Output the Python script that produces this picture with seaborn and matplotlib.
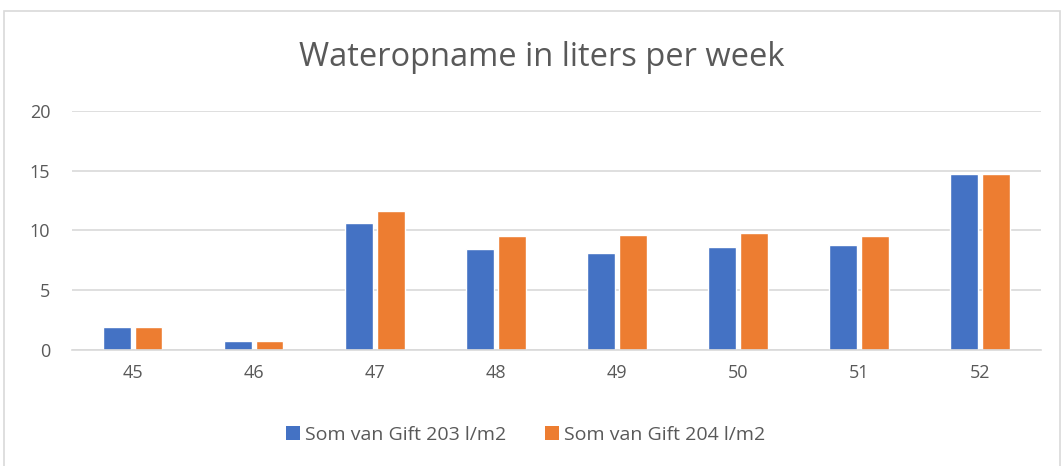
import matplotlib
matplotlib.use("Agg")
import matplotlib.pyplot as plt
import seaborn as sns
import pandas as pd
from matplotlib.patches import Rectangle, Patch

weeks = ["45", "46", "47", "48", "49", "50", "51", "52"]
gift_203 = [1.95, 0.75, 10.6, 8.45, 8.1, 8.6, 8.75, 14.75]
gift_204 = [1.95, 0.75, 11.6, 9.5, 9.65, 9.8, 9.55, 14.75]
series_names = ["Som van Gift 203 l/m2", "Som van Gift 204 l/m2"]
colors = ["#4472C4", "#ED7D31"]
yticks = [0, 5, 10, 15, 20]

df = pd.DataFrame({
    "week": weeks * 2,
    "value": gift_203 + gift_204,
    "series": [series_names[0]] * len(weeks) + [series_names[1]] * len(weeks),
})

sns.set_theme(style="white")
plt.rcParams["font.family"] = ["Open Sans", "DejaVu Sans"]

fig = plt.figure(figsize=(10.64, 4.66), dpi=100)
ax = fig.add_axes([0.068, 0.249, 0.910, 0.513])

sns.barplot(data=df, x="week", y="value", hue="series", order=weeks,
            hue_order=series_names, palette=colors, width=0.52, gap=0.12,
            saturation=1, ax=ax, legend=False)

ax.set_ylim(0, 20)
ax.set_yticks(yticks)
ax.set_yticklabels([str(t) for t in yticks])
ax.set_xlim(-0.5, len(weeks) - 0.5)
ax.yaxis.grid(True, color="#D9D9D9", linewidth=1.2)
ax.set_axisbelow(True)
for s in ["top", "right", "left"]:
    ax.spines[s].set_visible(False)
ax.spines["bottom"].set_color("#D9D9D9")
ax.spines["bottom"].set_linewidth(1.2)
ax.set_xlabel("")
ax.set_ylabel("")
ax.tick_params(axis="both", length=0, labelsize=13, colors="#595959", pad=10)
ax.tick_params(axis="y", pad=16)

fig.text(0.509, 0.877, "Wateropname in liters per week", ha="center", va="center",
         fontsize=23.5, color="#595959")

handles = [Patch(facecolor=c, edgecolor="none") for c in colors]
fig.legend(handles, series_names, loc="center", bbox_to_anchor=(0.494, 0.067),
           ncol=2, frameon=False, fontsize=14, labelcolor="#595959",
           handlelength=0.7, handleheight=0.7, handletextpad=0.25, columnspacing=2.0)

fig.patches.append(Rectangle((4 / 1064, -0.01), 1056 / 1064, (466 - 11) / 466 + 0.01,
                             transform=fig.transFigure, fill=False,
                             edgecolor="#D9D9D9", linewidth=1.2))

fig.savefig("out.png", dpi=100, facecolor="white")
